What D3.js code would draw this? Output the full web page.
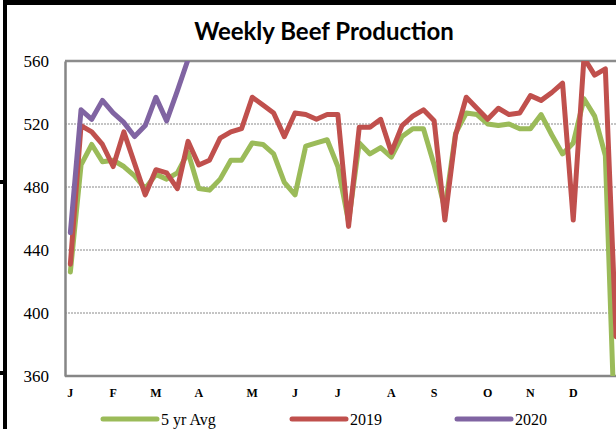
<!DOCTYPE html>
<html>
<head>
<meta charset="utf-8">
<script src="https://cdn.jsdelivr.net/npm/d3@7"></script>
<style>
  html, body { margin: 0; padding: 0; background: #fff; }
  svg { display: block; }
</style>
</head>
<body>
<div id="chart"></div>
<script>
// Weekly beef production, million lbs, by week of year.
const weeks = d3.range(1, 53);
const monthWeeks = [1, 5, 9, 13, 18, 22, 26, 31, 35, 40, 44, 48];
const monthLabels = ["J", "F", "M", "A", "M", "J", "J", "A", "S", "O", "N", "D"];
const yTicks = [360, 400, 440, 480, 520, 560];

const avg5 = [426, 494, 507, 496, 497, 493, 487, 479, 488, 485, 489, 502, 479, 478, 485, 497,
  497, 508, 507, 501, 483, 475, 506, 508, 510, 493, 458, 508, 501, 505, 499, 512, 517, 517,
  494, 466, 514, 527, 526, 520, 519, 520, 517, 517, 526, 513, 501, 508, 536, 525, 500, 300];
const y2019 = [431, 519, 515, 507, 493, 515, 495, 475, 491, 489, 479, 509, 494, 497, 511, 515,
  517, 537, 532, 527, 512, 527, 526, 523, 526, 526, 455, 518, 518, 523, 502, 519, 525, 529,
  522, 459, 513, 537, 530, 523, 530, 526, 527, 538, 535, 540, 546, 459, 562, 551, 555, 385];
const y2020 = [451, 529, 523, 535, 527, 521, 512, 519, 537, 522, 541, 561];

const series = [
  { name: "5 yr Avg", values: avg5, color: "#9bbb59" },
  { name: "2019", values: y2019, color: "#c0504d" },
  { name: "2020", values: y2020, color: "#8064a2" }
];

const W = 616, H = 429;
const plot = { left: 65, top: 61, bottom: 376, step: 10.7 };
plot.right = plot.left + weeks.length * plot.step;

const svg = d3.select("#chart").append("svg")
  .attr("width", W).attr("height", H);

// outer frame pieces (chart is cropped out of a larger page)
svg.append("rect").attr("x", 3).attr("y", 0).attr("width", W).attr("height", 5).attr("fill", "#000");
svg.append("rect").attr("x", 3).attr("y", 0).attr("width", 4).attr("height", H).attr("fill", "#000");
[180, 371].forEach((yy) =>
  svg.append("rect").attr("x", 0).attr("y", yy).attr("width", 7).attr("height", 4).attr("fill", "#000"));

svg.append("text")
  .attr("x", 324).attr("y", 40)
  .attr("text-anchor", "middle")
  .style("font", "bold 24px Lato, 'Open Sans', sans-serif")
  .attr("fill", "#000")
  .text("Weekly Beef Production");

const x = d3.scaleBand().domain(weeks).range([plot.left, plot.right]).padding(0);
const cx = (w) => x(w) + x.bandwidth() / 2;
const y = d3.scaleLinear().domain([360, 560]).range([plot.bottom, plot.top]);

// dotted gridlines
svg.append("g")
  .selectAll("line")
  .data(yTicks.filter((t) => t > 360 && t < 560))
  .join("line")
  .attr("x1", plot.left).attr("x2", W)
  .attr("y1", (d) => y(d)).attr("y2", (d) => y(d))
  .attr("stroke", "#8a8a8a")
  .attr("stroke-width", 1)
  .attr("stroke-dasharray", "2,1");

// plot area top border
svg.append("line")
  .attr("x1", plot.left).attr("x2", W)
  .attr("y1", y(560)).attr("y2", y(560))
  .attr("stroke", "#8c8c8c").attr("stroke-width", 2.5);

// y axis
const yAxis = svg.append("g")
  .attr("transform", `translate(${plot.left},0)`)
  .call(d3.axisLeft(y).tickValues(yTicks).tickSize(0).tickPadding(16));
yAxis.select(".domain").attr("stroke", "#868686").attr("stroke-width", 2.5);
yAxis.selectAll("text")
  .style("font", "17px 'Liberation Serif', 'Times New Roman', serif")
  .attr("fill", "#000");

// x axis (month initials at first week of each month)
const xAxis = svg.append("g")
  .attr("transform", `translate(0,${plot.bottom})`)
  .call(d3.axisBottom(x)
    .tickValues(monthWeeks)
    .tickFormat((d) => monthLabels[monthWeeks.indexOf(d)])
    .tickSize(0).tickPadding(12));
xAxis.select(".domain").attr("stroke", "#868686").attr("stroke-width", 2.5)
  .attr("d", `M${plot.left},0H${W}`);
xAxis.selectAll("text")
  .style("font", "bold 12px 'Liberation Serif', 'Times New Roman', serif")
  .attr("fill", "#000");

// lines, clipped to plot area
svg.append("clipPath").attr("id", "plot-clip")
  .append("rect")
  .attr("x", plot.left).attr("y", plot.top)
  .attr("width", plot.right - plot.left).attr("height", plot.bottom - plot.top);

const line = d3.line()
  .x((d, i) => cx(weeks[i]))
  .y((d) => y(d));

svg.append("g")
  .attr("clip-path", "url(#plot-clip)")
  .selectAll("path")
  .data(series)
  .join("path")
  .attr("d", (s) => line(s.values))
  .attr("fill", "none")
  .attr("stroke", (s) => s.color)
  .attr("stroke-width", 5)
  .attr("stroke-linejoin", "round")
  .attr("stroke-linecap", "round");

// legend
const legendX = [103, 292, 457];
const lg = svg.append("g")
  .selectAll("g")
  .data(series)
  .join("g")
  .attr("transform", (d, i) => `translate(${legendX[i]},419)`);
lg.append("line")
  .attr("x1", 0).attr("x2", 54)
  .attr("stroke", (d) => d.color)
  .attr("stroke-width", 5)
  .attr("stroke-linecap", "round");
lg.append("text")
  .attr("x", 58).attr("y", 6)
  .style("font", "16px 'Liberation Serif', 'Times New Roman', serif")
  .attr("fill", "#000")
  .text((d) => d.name);
</script>
</body>
</html>
